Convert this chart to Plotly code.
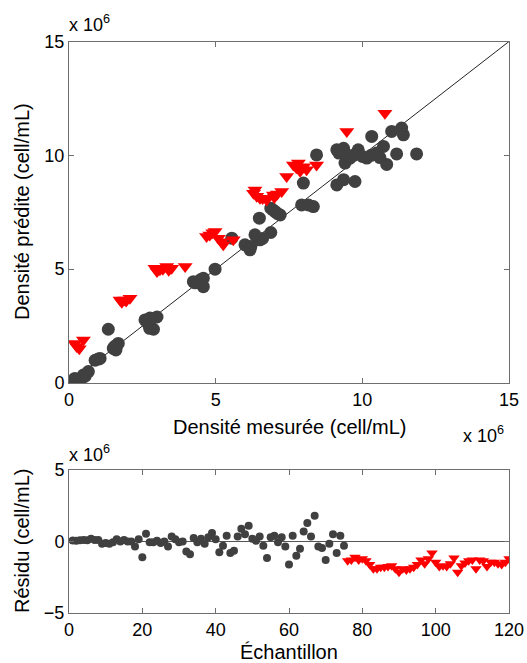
import plotly.graph_objects as go

# ---- Data (values in units of 10^6 cell/mL) ----
meas_dark = [0.2, 0.375, 0.49, 0.66, 0.89, 1.06, 1.34, 1.51, 1.63, 1.68,
             2.59, 2.76, 2.88, 3.0, 4.24, 4.41, 4.58, 4.58, 4.98, 5.55,
             6.0, 6.17, 6.34, 6.51, 6.49, 6.88, 6.88, 7.03, 7.2, 7.93,
             8.16, 8.33, 7.99, 9.13, 9.75, 8.44, 9.36, 9.13, 9.36, 9.41,
             9.58, 9.86, 10.15, 10.32, 10.49, 10.72, 10.83, 11.0, 11.17, 11.34,
             11.4, 11.85, 10.6, 9.81, 0.3, 0.55, 1.0, 1.55, 1.6, 2.65,
             2.7, 2.8, 2.75, 4.3, 4.5, 4.5, 6.2, 6.6, 6.95, 7.1,
             9.2, 9.7, 10.0, 10.3, 9.5]
pred_dark = [0.2, 0.06, 0.35, 0.5, 1.0, 1.08, 2.36, 1.52, 1.66, 1.74,
             2.77, 2.85, 2.36, 2.9, 4.45, 4.45, 4.6, 4.23, 5.0, 6.36,
             6.07, 5.85, 6.51, 6.29, 7.24, 6.61, 7.68, 7.53, 7.38, 7.82,
             7.82, 7.75, 8.78, 8.7, 8.85, 10.02, 8.93, 10.24, 10.31, 9.66,
             9.88, 10.24, 9.88, 10.83, 10.1, 10.39, 9.6, 11.05, 10.06, 11.2,
             10.9, 10.06, 9.9, 10.1, 0.1, 0.3, 1.05, 1.6, 1.45, 2.7,
             2.6, 2.8, 2.4, 4.4, 4.4, 4.55, 6.0, 6.35, 7.6, 7.45,
             10.1, 10.0, 9.95, 10.0, 10.0]

meas_red = [0.26, 0.49, 0.2, 1.74, 1.91, 2.08, 2.93, 3.1, 3.33, 3.5,
            3.96, 4.69, 4.98, 5.09, 5.26, 5.6, 6.29, 6.51, 6.74, 6.97,
            7.25, 6.34, 7.42, 7.65, 7.82, 7.88, 8.1, 8.44, 9.47, 10.77,
            0.35, 1.8, 1.95, 3.0, 3.2, 3.4, 4.8, 4.9, 6.4, 6.6,
            7.0, 7.1, 7.75, 8.0, 5.2]
pred_red = [1.6, 1.89, 1.74, 3.65, 3.65, 3.72, 5.04, 4.97, 5.12, 5.04,
            5.12, 6.43, 6.65, 6.36, 6.07, 6.29, 8.34, 8.12, 8.04, 8.26,
            8.41, 8.48, 9.07, 9.58, 9.66, 9.3, 9.37, 9.58, 11.05, 11.85,
            1.5, 3.55, 3.6, 4.9, 5.0, 4.95, 6.5, 6.6, 8.2, 8.1,
            8.15, 8.3, 9.45, 9.5, 6.2]

resid_dark = [0.07, 0.05, 0.08, 0.1, 0.08, 0.2, 0.1, 0.1, -0.15, -0.1,
              -0.15, -0.05, 0.15, 0.0, 0.1, 0.0, 0.0, -0.35, 0.15, -1.1,
              0.55, -0.05, -0.05, 0.05, -0.1, 0.0, -0.35, 0.35, 0.15, -0.05,
              0.0, -0.7, -0.9, 0.25, -0.05, 0.2, -0.15, 0.3, 0.6, 0.15,
              -0.75, -0.3, 0.4, -0.8, -0.65, 0.35, 0.9, 0.5, 1.1, 0.2,
              0.05, 0.35, -0.3, -1.15, 0.3, 0.4, -0.05, 0.3, -0.35, -1.6,
              0.4, -1.0, -0.5, 0.7, 1.3, 0.35, 1.8, -0.35, -0.45, -1.3,
              -0.15, 0.5, -0.8, 0.4, -0.3]
resid_red = [-1.35, -1.3, -1.1, -1.3, -1.2, -1.35, -1.6, -1.9, -1.9, -1.8,
             -1.8, -1.75, -1.7, -1.9, -2.15, -1.9, -2.0, -1.9, -1.8, -1.6,
             -1.3, -1.55, -1.2, -0.8, -1.45, -1.75, -1.7, -1.75, -1.55, -1.15,
             -2.15, -1.7, -1.5, -1.35, -1.3, -1.9, -1.3, -1.35, -1.75, -1.45,
             -1.45, -1.55, -1.6, -1.45, -1.2]

top_range = [0, 15]
top_ticks = [0, 5, 10, 15]
bot_xrange = [0, 120]
bot_xticks = [0, 20, 40, 60, 80, 100, 120]
bot_yrange = [-5, 5]
bot_yticks = [-5, 0, 5]

x_dark_idx = list(range(1, len(resid_dark) + 1))
x_red_idx = list(range(len(resid_dark) + 1, len(resid_dark) + len(resid_red) + 1))

DARK = "#404040"
RED = "#ff0000"
FRAME = "#6e6e6e"
FONT = "Liberation Sans, Arial, sans-serif"

fig = go.Figure()

# identity line
fig.add_trace(go.Scatter(x=top_range, y=top_range, mode="lines",
                         line=dict(color="#222222", width=1),
                         xaxis="x", yaxis="y", showlegend=False, hoverinfo="skip"))
fig.add_trace(go.Scatter(x=meas_dark, y=pred_dark, mode="markers",
                         marker=dict(symbol="circle", size=13, color=DARK),
                         xaxis="x", yaxis="y", showlegend=False))
fig.add_trace(go.Scatter(x=meas_red, y=pred_red, mode="markers",
                         marker=dict(symbol="triangle-down", size=13, color=RED),
                         xaxis="x", yaxis="y", showlegend=False))

# zero line in residual plot
fig.add_trace(go.Scatter(x=bot_xrange, y=[0, 0], mode="lines",
                         line=dict(color="#555555", width=1),
                         xaxis="x2", yaxis="y2", showlegend=False, hoverinfo="skip"))
fig.add_trace(go.Scatter(x=x_dark_idx, y=resid_dark, mode="markers",
                         marker=dict(symbol="circle", size=8, color=DARK),
                         xaxis="x2", yaxis="y2", showlegend=False))
fig.add_trace(go.Scatter(x=x_red_idx, y=resid_red, mode="markers",
                         marker=dict(symbol="triangle-down", size=10, color=RED),
                         xaxis="x2", yaxis="y2", showlegend=False))

W, H = 527, 663
xdom = [69 / W, 509 / W]
ydom_top = [1 - 383 / H, 1 - 41.5 / H]
ydom_bot = [1 - 613 / H, 1 - 470 / H]

axis_common = dict(showline=True, linecolor=FRAME, linewidth=1, mirror="ticks",
                   ticks="inside", ticklen=5, tickcolor=FRAME, showgrid=False,
                   zeroline=False, tickfont=dict(size=18, color="#000000", family=FONT),
                   automargin=False)


def px(xp, yp):
    return xp / W, 1 - yp / H


def label(text, xp, yp, size=20, angle=0, xanchor="center", yanchor="middle"):
    x, y = px(xp, yp)
    return dict(text=text, xref="paper", yref="paper", x=x, y=y,
                xanchor=xanchor, yanchor=yanchor, textangle=angle,
                showarrow=False, font=dict(size=size, family=FONT, color="#000000"))


fig.update_layout(
    width=W, height=H,
    margin=dict(l=0, r=0, t=0, b=0),
    paper_bgcolor="white", plot_bgcolor="white",
    font=dict(family=FONT, color="#000000"),
    xaxis=dict(domain=xdom, range=top_range, tickvals=top_ticks, anchor="y", **axis_common),
    yaxis=dict(domain=ydom_top, range=top_range, tickvals=top_ticks, anchor="x", **axis_common),
    xaxis2=dict(domain=xdom, range=bot_xrange, tickvals=bot_xticks, anchor="y2", **axis_common),
    yaxis2=dict(domain=ydom_bot, range=bot_yrange, tickvals=bot_yticks, anchor="x2", **axis_common),
    annotations=[
        label("Densité mesurée (cell/mL)", 289, 427),
        label("Densité prédite (cell/mL)", 22, 212, angle=-90),
        label("Échantillon", 289, 652),
        label("Résidu (cell/mL)", 22, 541, angle=-90),
        label("x 10<sup>6</sup>", 67, 24, size=18, xanchor="left"),
        label("x 10<sup>6</sup>", 461, 434, size=18, xanchor="left"),
        label("x 10<sup>6</sup>", 67, 453, size=18, xanchor="left"),
    ],
)

fig.write_html("out.html",
               config={"displayModeBar": False},
               post_script="document.body.style.margin='0';document.body.style.overflow='hidden';")
